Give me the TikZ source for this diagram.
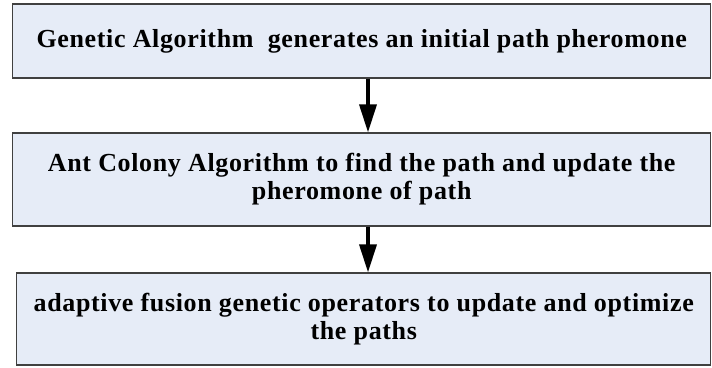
\documentclass[tikz,border=0pt]{standalone}
\usepackage{fontspec}
\setmainfont{Liberation Serif}[LetterSpace=2.5]
\usepackage{tikz}
\usetikzlibrary{arrows.meta}
\definecolor{paleblue}{HTML}{E6ECF7}
\definecolor{edgegray}{HTML}{404040}

\begin{document}
\begin{tikzpicture}[x=1pt,y=-1pt,
    stagebox/.style={draw=edgegray, line width=1.2pt, fill=paleblue,
      inner sep=0pt, align=center,
      font=\fontsize{26}{28}\selectfont\bfseries},
    flow/.style={-{Triangle[length=28pt,width=17pt]}, line width=3.5pt}]
    \useasboundingbox (0,0) rectangle (712,367);
    \node[stagebox, minimum width=698pt, minimum height=74pt] (ga) at (361.75,41)
      {Genetic Algorithm\ \ generates an initial path pheromone};
    \node[stagebox, minimum width=698pt, minimum height=93pt] (aco) at (361.75,179.5)
      {Ant Colony Algorithm to find the path and update the\\pheromone of path};
    \node[stagebox, minimum width=694pt, minimum height=92pt] (fusion) at (363.75,319)
      {adaptive fusion genetic operators to update and optimize\\the paths};
    % arrows between the stages
    \draw[flow] ([xshift=6.25pt]ga.south) -- ([xshift=6.25pt]aco.north);
    \draw[flow] ([xshift=6.25pt]aco.south) -- ([xshift=4.25pt]fusion.north);
\end{tikzpicture}
\end{document}
